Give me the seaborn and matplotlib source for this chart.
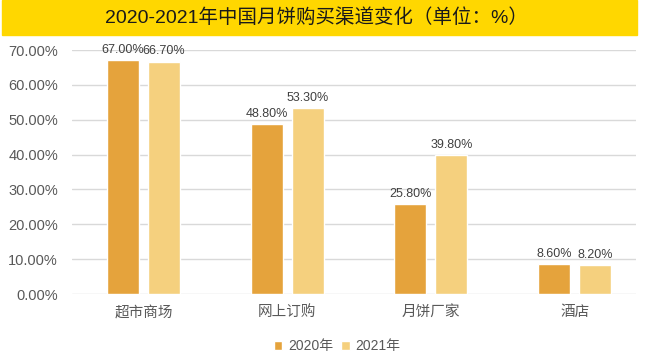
import pandas as pd
import matplotlib.pyplot as plt
import seaborn as sns
from matplotlib.patches import Rectangle
from matplotlib.ticker import FuncFormatter

# ------------------------------------
# Data
# ------------------------------------
channels = ["超市商场", "网上订购", "月饼厂家", "酒店"]
years = ["2020年", "2021年"]
share_2020 = [67.0, 48.8, 25.8, 8.6]
share_2021 = [66.7, 53.3, 39.8, 8.2]
colors = ["#E5A33C", "#F5D07E"]

df = pd.DataFrame({
    "channel": channels * 2,
    "year": [years[0]] * 4 + [years[1]] * 4,
    "share": share_2020 + share_2021,
})

sns.set_style("white")
plt.rcParams["font.family"] = ["Liberation Sans", "Noto Sans CJK SC", "DejaVu Sans"]

fig = plt.figure(figsize=(6.49, 3.64), dpi=100)
ax = fig.add_axes([72 / 649, 1 - 294 / 364, (636 - 72) / 649, (294 - 50) / 364])

sns.barplot(
    data=df, x="channel", y="share", hue="year",
    palette=colors, saturation=1, width=0.571, gap=0.22,
    ax=ax, legend=True,
)

# ------------------------------------
# Axes styling
# ------------------------------------
ax.set_ylim(0, 70)
ax.set_xlim(-0.498, 3.427)
ax.set_yticks(range(0, 71, 10))
ax.yaxis.set_major_formatter(FuncFormatter(lambda v, p: f"{v:.2f}%"))
ax.grid(axis="y", color="#D9D9D9", linewidth=1)
ax.set_axisbelow(True)
for s in ax.spines.values():
    s.set_visible(False)
ax.tick_params(axis="both", length=0, colors="#595959")
ax.tick_params(axis="y", labelsize=10.5, pad=10)
ax.tick_params(axis="x", labelsize=10.5, pad=8)
for lab in ax.get_xticklabels():
    lab.set_fontfamily(["Noto Sans CJK SC", "DejaVu Sans"])
ax.set_xlabel("")
ax.set_ylabel("")

for cont in ax.containers:
    ax.bar_label(cont, labels=[f"{v:.2f}%" for v in cont.datavalues],
                 padding=3, fontsize=9, color="#404040")

# Legend
leg = ax.legend(loc="upper center", bbox_to_anchor=(0.47, -0.135), ncol=2,
                frameon=False, fontsize=10, handlelength=0.6, handleheight=0.6,
                handletextpad=0.4, columnspacing=0.6)
for t in leg.get_texts():
    t.set_color("#595959")

# ------------------------------------
# Title band
# ------------------------------------
fig.patches.append(Rectangle((2 / 649, 1 - 35 / 364), 635 / 649, 35 / 364,
                             transform=fig.transFigure, color="#FFD700", zorder=0))
fig.text(316 / 649, 1 - 18 / 364, "2020-2021年中国月饼购买渠道变化（单位：%）",
         ha="center", va="center", fontsize=14, color="#1A1A1A",
         family=["Liberation Sans", "Noto Sans CJK SC", "DejaVu Sans"])

plt.savefig("out.png", dpi=100)
plt.close()
